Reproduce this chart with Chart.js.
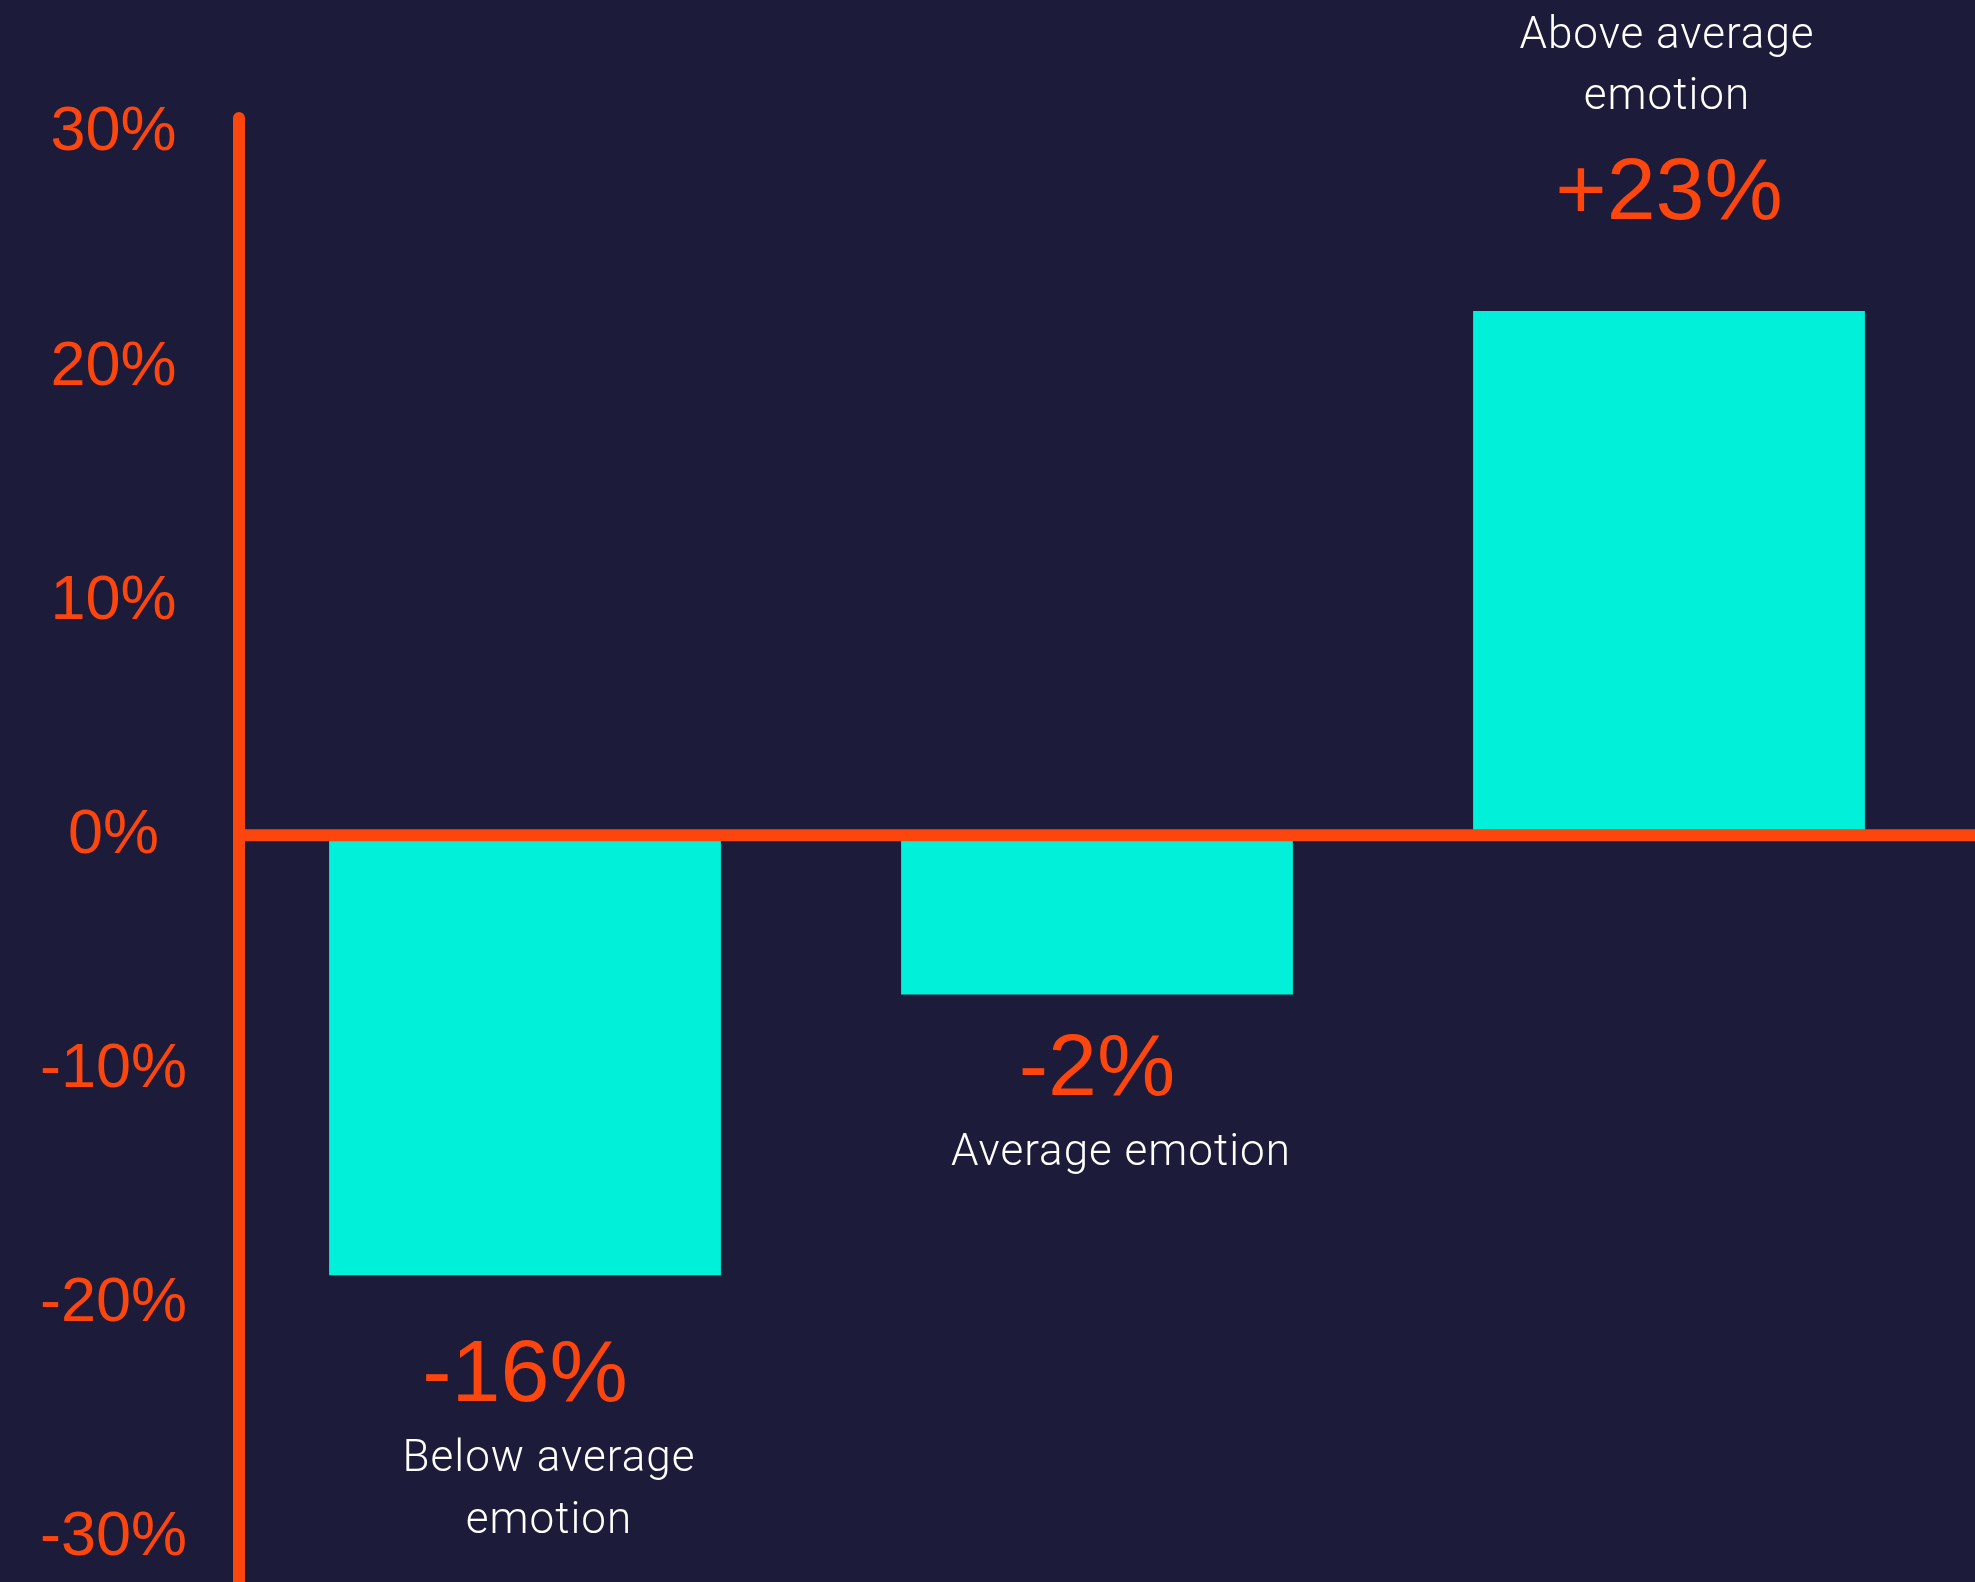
<!DOCTYPE html>
<html lang="en">
<head>
    <meta charset="UTF-8">
    <title>Emotion vs. average</title>
    <!-- Chart.js -->
    <script src="https://cdn.jsdelivr.net/npm/chart.js"></script>
    <style>
        html, body { margin: 0; padding: 0; background: #1c1b3a; }
        canvas { display: block; }
    </style>
</head>
<body>
    <canvas id="emotionChart" width="1975" height="1582"></canvas>

    <script>
        // data
        const categories = [['Below average', 'emotion'], ['Average emotion'], ['Above average', 'emotion']];
        const barValues = [-18.8, -6.8, 22.4];      // bar ends as drawn against the axis
        const valueLabels = ['-16%', '-2%', '+23%']; // printed figures
        const yTicks = [-30, -20, -10, 0, 10, 20, 30];

        const ORANGE = '#fc460e';
        const CYAN = '#00f0da';

        // axis lines + value / category labels
        const annotate = {
            id: 'annotate',
            afterDatasetsDraw(chart, args, opts) {
                const ctx = chart.ctx;
                const area = chart.chartArea;
                const zeroY = chart.scales.y.getPixelForValue(0);

                ctx.save();
                ctx.strokeStyle = ORANGE;
                ctx.lineWidth = 12;

                ctx.lineCap = 'round';
                ctx.beginPath();
                ctx.moveTo(area.left, area.top + 6);
                ctx.lineTo(area.left, chart.height + 10);
                ctx.stroke();

                ctx.lineCap = 'butt';
                ctx.beginPath();
                ctx.moveTo(area.left, zeroY);
                ctx.lineTo(chart.width, zeroY);
                ctx.stroke();

                ctx.textAlign = 'center';
                ctx.textBaseline = 'alphabetic';

                chart.getDatasetMeta(0).data.forEach((bar, i) => {
                    const up = barValues[i] >= 0;
                    const lines = categories[i];
                    const valY = up ? bar.y - opts.gap[i] : bar.y + opts.gap[i];

                    ctx.fillStyle = ORANGE;
                    ctx.font = '88px "Liberation Sans", Arial, sans-serif';
                    ctx.fillText(valueLabels[i], bar.x, valY);

                    ctx.fillStyle = '#ffffff';
                    ctx.font = '300 44px Roboto, sans-serif';
                    ctx.letterSpacing = '1px';
                    lines.forEach((line, j) => {
                        const ly = up
                            ? valY - 110 - (lines.length - 1 - j) * 61
                            : valY + 70 + j * 62;
                        ctx.fillText(line, bar.x + opts.nudge[i], ly);
                    });
                    ctx.letterSpacing = '0px';
                });
                ctx.restore();
            }
        };

        const ctx = document.getElementById('emotionChart').getContext('2d');
        new Chart(ctx, {
            type: 'bar',
            data: {
                labels: categories.map(c => c.join(' ')),
                datasets: [{
                    data: barValues,
                    backgroundColor: CYAN,
                    borderWidth: 0,
                    barPercentage: 0.685,
                    categoryPercentage: 1
                }]
            },
            options: {
                responsive: false,
                animation: false,
                devicePixelRatio: 1,
                layout: { padding: { top: 112, right: 20, bottom: 0, left: 0 } },
                plugins: {
                    legend: { display: false },
                    tooltip: { enabled: false },
                    annotate: { nudge: [24, 24, -2], gap: [126, 101, 92] }
                },
                scales: {
                    x: { display: false },
                    y: {
                        min: -31.9,
                        max: 30.9,
                        afterBuildTicks: s => { s.ticks = yTicks.map(v => ({ value: v })); },
                        afterFit: s => {
                            s.width = 239;
                            s.paddingTop = 0;
                            s.paddingBottom = 0;
                        },
                        grid: { display: false, drawTicks: false },
                        border: { display: false },
                        ticks: {
                            color: ORANGE,
                            font: { family: '"Liberation Sans", Arial, sans-serif', size: 63 },
                            padding: 52,
                            crossAlign: 'center',
                            callback: v => v + '%'
                        }
                    }
                }
            },
            plugins: [annotate]
        });
    </script>
</body>
</html>
